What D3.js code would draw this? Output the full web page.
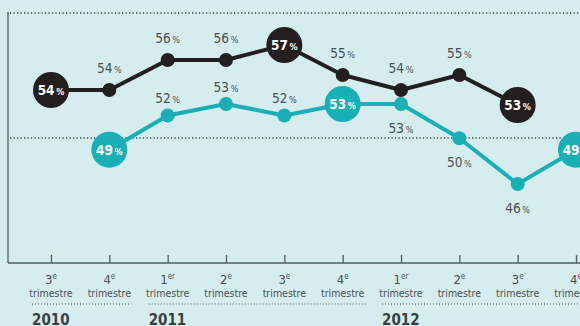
<!DOCTYPE html>
<html><head><meta charset="utf-8">
<script src="https://cdn.jsdelivr.net/npm/d3@7/dist/d3.min.js"></script>
<style>
html,body{margin:0;padding:0;background:#d5edef;}
svg{display:block;}
text{font-family:"DejaVu Sans Condensed","Liberation Sans Narrow",Roboto,sans-serif;}
</style></head>
<body>
<script>
// ---- data ----
const quarterNums = ["3","4","1","2","3","4","1","2","3","4"];
const quarterSups = ["e","e","er","e","e","e","er","e","e","e"];
const quarterWord = "trimestre";
const years = ["2010","2011","2012"];
const yearStartIdx = [0, 2, 6];
const blackValues = [54,54,56,56,57,55,54,55,53,null];
const tealValues  = [null,49,52,53,52,53,53,50,46,49];
const blackBig = [0,4,8];
const tealBig = [1,5,9];

const W = 580, H = 326;
const BLACK = "#231f20", TEAL = "#1aafb4", GREY = "#4b5052";

const svg = d3.select("body").append("svg").attr("width", W).attr("height", H);
svg.append("rect").attr("width", W).attr("height", H).attr("fill", "#d5edef");

const idx = d3.range(quarterNums.length);
const x = d3.scaleLinear().domain([0, 9]).range([51, 576]);
const yBlack = d3.scaleLinear().domain([53, 57]).range([105, 45]);
const yTeal = d3.scaleLinear().domain([46, 53]).range([184, 104]);

// dotted reference lines
[13, 138].forEach(yy => {
  svg.append("line").attr("x1", 10).attr("x2", W).attr("y1", yy).attr("y2", yy)
    .attr("stroke", "#3a3f42").attr("stroke-width", 1.4).attr("stroke-dasharray", "1.2,2.3");
});

// axes
const axisY = 263;
svg.append("line").attr("x1", 8).attr("x2", 8).attr("y1", 12).attr("y2", axisY)
  .attr("stroke", "#55595b").attr("stroke-width", 1.3);
const xAxis = d3.axisBottom(x).tickValues(idx).tickSize(-8).tickFormat("");
const gAx = svg.append("g").attr("transform", `translate(0,${axisY})`).call(xAxis);
gAx.select(".domain").remove();
gAx.selectAll(".tick line").attr("stroke", "#55595b").attr("stroke-width", 1.3);
svg.append("line").attr("x1", 8).attr("x2", W).attr("y1", axisY).attr("y2", axisY)
  .attr("stroke", "#55595b").attr("stroke-width", 1.3);

// tick labels
idx.forEach(i => {
  const t = svg.append("text").attr("x", x(i)).attr("y", 284).attr("text-anchor", "middle")
    .attr("fill", GREY).attr("font-size", 13);
  t.append("tspan").text(quarterNums[i]);
  t.append("tspan").attr("font-size", 8).attr("dy", -5).text(quarterSups[i]);
  svg.append("text").attr("x", x(i)).attr("y", 297).attr("text-anchor", "middle")
    .attr("fill", GREY).attr("font-size", 10.5).text(quarterWord);
});

// year separators and labels
const segEnds = [x(1) + 22, x(5) + 23, W];
years.forEach((yr, k) => {
  const x0 = x(yearStartIdx[k]) - 19;
  svg.append("line").attr("x1", x0).attr("x2", segEnds[k]).attr("y1", 304).attr("y2", 304)
    .attr("stroke", "#55595b").attr("stroke-width", 1.2).attr("stroke-dasharray", "1,2");
  svg.append("text").attr("x", x0).attr("y", 325).attr("fill", "#3b3f41")
    .attr("font-size", 15).attr("font-weight", "bold").text(yr);
});

function drawSeries(values, y, color, bigIdx, labelPos) {
  const pts = idx.filter(i => values[i] != null);
  const line = d3.line().x(i => x(i)).y(i => y(values[i]));
  svg.append("path").datum(pts).attr("d", line).attr("fill", "none")
    .attr("stroke", color).attr("stroke-width", 4).attr("stroke-linejoin", "round");
  pts.forEach(i => {
    const big = bigIdx.includes(i);
    svg.append("circle").attr("cx", x(i)).attr("cy", y(values[i]))
      .attr("r", big ? 18 : 7).attr("fill", color);
    let ty, fill, weight;
    if (big) { ty = y(values[i]) + 5; fill = "#ffffff"; weight = "bold"; }
    else { ty = y(values[i]) + labelPos(i); fill = GREY; weight = "normal"; }
    const t = svg.append("text").attr("x", x(i)).attr("y", ty).attr("text-anchor", "middle")
      .attr("fill", fill).attr("font-weight", weight).attr("font-size", 13.5);
    t.append("tspan").text(values[i]);
    t.append("tspan").attr("font-size", 9).text("\u2009%");
  });
}

drawSeries(blackValues, yBlack, BLACK, blackBig, i => -17);
drawSeries(tealValues, yTeal, TEAL, tealBig, i => (i < 6 ? -12 : 29));
</script>
</body></html>
